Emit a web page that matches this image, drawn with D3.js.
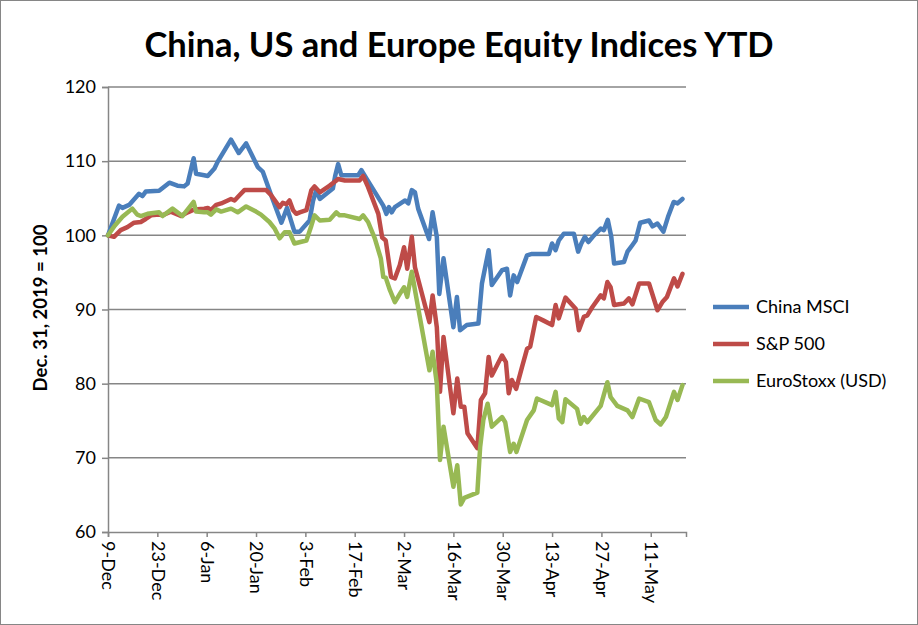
<!DOCTYPE html>
<html>
<head>
<meta charset="utf-8">
<script src="https://cdn.jsdelivr.net/npm/d3@7"></script>
<style>
  body { margin: 0; background: #fff; }
  text { font-family: Lato, "Open Sans", sans-serif; fill: #000; }
</style>
</head>
<body>
<div id="chart"></div>
<script>
// data: [days since 9-Dec-2019, index value]
var tickDays = [0, 14, 28, 42, 56, 70, 84, 98, 112, 126, 140, 154];
var tickLabels = ["9-Dec", "23-Dec", "6-Jan", "20-Jan", "3-Feb", "17-Feb", "2-Mar", "16-Mar", "30-Mar", "13-Apr", "27-Apr", "11-May"];
var seriesNames = ["China MSCI", "S&P 500", "EuroStoxx (USD)"];

var china = [[0,100],[3.1,104.0],[4.1,103.7],[6.0,104.1],[8.8,105.6],[9.8,105.3],[10.7,105.9],[14.5,106.0],
  [17.4,107.1],[19.7,106.7],[21.6,106.6],[22.6,107.0],[24.3,110.4],[25.0,108.3],[27.3,108.1],[28.3,108.0],
  [30.2,109.0],[31.1,109.9],[34.9,112.9],[37.1,111.1],[39.2,112.4],[42.5,109.2],[43.9,108.6],[46.3,105.4],
  [49.2,101.7],[50.8,103.7],[52.9,100.5],[54.4,100.5],[57.2,102.0],[58.2,104.7],[59.1,106.1],[60.1,104.9],
  [63.8,106.3],[64.5,108.1],[65.3,109.6],[66.2,108.1],[71.0,108.1],[71.9,108.8],[73.4,107.6],[78.1,104.0],
  [79.0,102.9],[79.7,103.8],[80.5,103.1],[81.4,103.8],[84.3,104.7],[85.2,104.3],[86.2,106.1],[87.1,105.8],
  [88.0,103.6],[91.1,99.5],[92.1,103.1],[93.3,99.8],[94.0,92.1],[95.2,96.9],[98.0,87.6],[99.0,91.7],
  [99.9,87.2],[101.8,87.9],[105.1,88.1],[106.1,93.5],[108.0,98.0],[108.9,93.3],[111.8,95.3],[113.2,95.5],
  [114.1,91.9],[115.1,94.6],[116.1,93.7],[118.9,97.3],[120.3,97.5],[125.1,97.5],[126.0,98.9],[127.0,98.0],
  [127.9,99.3],[129.3,100.2],[132.2,100.2],[133.4,97.8],[134.3,98.9],[135.3,99.8],[136.3,99.1],[137.9,100.0],
  [139.8,100.9],[140.7,100.7],[141.8,102.1],[142.8,99.8],[143.6,96.2],[146.4,96.4],[147.4,97.8],[148.8,98.7],
  [149.7,99.3],[151.0,101.7],[153.5,102.0],[154.5,101.2],[155.9,101.6],[157.6,100.5],[158.9,102.5],
  [160.5,104.5],[161.6,104.3],[163.0,104.9]];

var sp500 = [[0,100],[1.7,99.8],[3.6,100.7],[5.5,101.1],[7.4,101.7],[9.3,101.8],[10.7,102.2],[12.2,102.7],
  [14.5,102.8],[15.5,102.7],[17.8,103.2],[20.7,102.6],[22.6,103.1],[24.5,103.5],[27.3,103.6],[28.3,103.7],
  [29.2,103.4],[30.7,104.1],[32.1,104.3],[33.5,104.6],[34.9,104.9],[35.9,104.7],[37.3,105.4],[38.7,106.1],
  [44.9,106.1],[46.3,105.4],[48.7,103.8],[49.6,104.4],[50.6,104.2],[51.5,104.7],[52.5,103.4],[53.4,102.9],
  [54.4,103.1],[56.3,103.4],[57.7,106.1],[58.6,106.6],[60.1,105.8],[62.9,106.7],[64.8,107.4],[65.3,107.6],
  [67.2,107.4],[71.4,107.4],[72.4,108.0],[73.8,106.5],[76.7,102.9],[77.8,99.7],[78.8,99.3],[80.3,94.4],
  [81.4,94.2],[82.8,96.0],[84.0,98.4],[84.9,95.5],[86.2,99.8],[87.1,95.7],[91.2,88.3],[92.1,91.9],
  [93.3,87.6],[94.2,78.9],[95.2,86.3],[98.0,76.0],[99.1,80.7],[100.1,76.9],[101.1,76.9],[102.0,73.3],
  [104.8,71.3],[105.8,77.8],[107.0,78.7],[108.0,83.6],[108.9,81.1],[111.8,83.8],[112.9,82.9],[113.7,78.7],
  [114.6,80.5],[115.8,79.3],[117.5,82.3],[118.9,84.7],[119.8,85.0],[121.5,89.0],[123.6,88.5],[126.0,87.9],
  [127.0,90.6],[127.9,88.8],[129.8,91.6],[132.7,90.1],[133.6,87.2],[135.0,89.0],[136.0,89.2],[137.4,90.3],
  [139.8,91.9],[140.7,91.5],[141.7,93.7],[142.6,93.0],[143.6,90.6],[146.4,90.8],[147.8,91.5],[148.8,90.7],
  [150.7,93.5],[153.5,93.5],[155.9,89.9],[157.3,91.0],[158.6,91.7],[160.6,94.2],[161.6,93.1],[163.0,94.8]];

var euro = [[0,100],[1.9,101.3],[4.1,102.5],[6.9,103.6],[8.3,102.8],[9.3,102.6],[11.2,102.9],[14.5,103.1],
  [15.5,102.6],[18.3,103.6],[21.1,102.6],[24.3,104.5],[25.0,103.2],[27.3,103.1],[28.3,103.1],[29.2,102.8],
  [30.7,103.5],[32.1,103.2],[34.9,103.6],[36.8,103.1],[39.2,103.9],[42.0,103.2],[43.4,102.8],[45.8,101.8],
  [47.3,100.9],[48.7,99.6],[50.1,100.4],[51.5,100.4],[52.9,98.9],[56.3,99.3],[57.7,101.3],[58.6,102.7],
  [60.1,102.0],[62.9,102.1],[64.8,103.1],[65.7,102.7],[67.2,102.7],[71.4,102.2],[72.4,102.7],[73.8,101.8],
  [75.7,99.6],[77.4,96.9],[78.1,94.4],[78.8,94.3],[80.0,92.6],[81.4,91.0],[82.8,92.1],[84.0,93.0],
  [84.9,91.7],[86.2,95.1],[87.1,92.6],[91.2,81.8],[92.1,84.3],[93.3,80.0],[94.2,69.7],[95.2,74.2],
  [98.0,66.1],[99.1,69.0],[100.1,63.7],[101.1,64.6],[104.8,65.3],[105.6,71.5],[106.5,75.1],[107.7,77.3],
  [108.9,74.2],[111.8,75.5],[112.7,74.8],[114.1,70.8],[115.1,71.9],[115.9,70.8],[118.9,75.1],[120.8,76.4],
  [121.7,78.0],[126.0,77.1],[127.0,78.9],[127.9,75.3],[128.9,74.8],[129.8,77.9],[133.1,76.6],[134.1,74.6],
  [135.0,75.5],[136.0,74.8],[139.8,77.0],[141.7,80.2],[142.6,78.2],[144.5,77.0],[147.4,76.4],[148.8,75.5],
  [150.7,78.0],[153.5,77.5],[155.4,75.1],[156.8,74.5],[158.3,75.5],[160.6,78.9],[161.6,77.8],[163.0,79.8]];

var colors = ["#4a7ebb", "#be4b48", "#98b954"];

var svgWidth = 918;
var svgHeight = 625;
var margin = { top: 87, right: 232, bottom: 93, left: 108 };
var width = svgWidth - margin.left - margin.right;
var height = svgHeight - margin.top - margin.bottom;

var svg = d3.select("#chart")
  .append("svg")
  .attr("width", svgWidth)
  .attr("height", svgHeight);

// outer frame
svg.append("rect")
  .attr("x", 0.5).attr("y", 0.5)
  .attr("width", svgWidth - 1).attr("height", svgHeight - 1)
  .attr("fill", "none")
  .attr("stroke", "#868686");

var chartGroup = svg.append("g")
  .attr("transform", `translate(${margin.left}, ${margin.top})`);

var xScale = d3.scaleLinear().domain([0, 164]).range([0, width]);
var yScale = d3.scaleLinear().domain([60, 120]).range([height, 0]);

// gridlines
chartGroup.append("g")
  .selectAll("line")
  .data(yScale.ticks(6).filter(d => d > 60))
  .enter()
  .append("line")
  .attr("x1", 0).attr("x2", width)
  .attr("y1", d => yScale(d)).attr("y2", d => yScale(d))
  .attr("stroke", "#868686")
  .attr("stroke-width", 1.5);

// axes
var leftAxis = d3.axisLeft(yScale).ticks(6).tickSize(6).tickPadding(6);
var bottomAxis = d3.axisBottom(xScale)
  .tickValues(tickDays)
  .tickFormat((d, i) => tickLabels[i])
  .tickSize(5);

var yAxisG = chartGroup.append("g").call(leftAxis);
var xAxisG = chartGroup.append("g")
  .attr("transform", `translate(0, ${height})`)
  .call(bottomAxis);

[yAxisG, xAxisG].forEach(function(g) {
  g.select(".domain").attr("stroke", "#868686").attr("stroke-width", 1.5);
  g.selectAll(".tick line").attr("stroke", "#868686").attr("stroke-width", 1.5);
  g.selectAll("text").style("font-size", "18px").attr("fill", "#000");
});

xAxisG.selectAll("text")
  .attr("transform", "rotate(90)")
  .attr("x", 9)
  .attr("y", 0)
  .attr("dy", "0.35em")
  .style("text-anchor", "start");

// lines
var line = d3.line()
  .x(d => xScale(d[0]))
  .y(d => yScale(d[1]));

[china, sp500, euro].forEach(function(series, i) {
  chartGroup.append("path")
    .datum(series)
    .attr("fill", "none")
    .attr("stroke", colors[i])
    .attr("stroke-width", 4.5)
    .attr("stroke-linejoin", "round")
    .attr("stroke-linecap", "round")
    .attr("d", line);
});

// title
svg.append("text")
  .attr("x", 459)
  .attr("y", 57)
  .attr("text-anchor", "middle")
  .style("font-size", "34.5px")
  .style("font-weight", "bold")
  .text("China, US and Europe Equity Indices YTD");

// y axis label
svg.append("text")
  .attr("transform", "translate(47, 308) rotate(-90)")
  .attr("text-anchor", "middle")
  .style("font-size", "18.5px")
  .style("font-weight", "bold")
  .text("Dec. 31, 2019 = 100");

// legend
var legend = svg.append("g")
  .attr("transform", "translate(713, 307)");

seriesNames.forEach(function(name, i) {
  var row = legend.append("g").attr("transform", `translate(0, ${i * 37})`);
  row.append("line")
    .attr("x1", 0).attr("x2", 36)
    .attr("stroke", colors[i])
    .attr("stroke-width", 4.5);
  row.append("text")
    .attr("x", 43)
    .attr("dy", "0.35em")
    .style("font-size", "18px")
    .text(name);
});
</script>
</body>
</html>
